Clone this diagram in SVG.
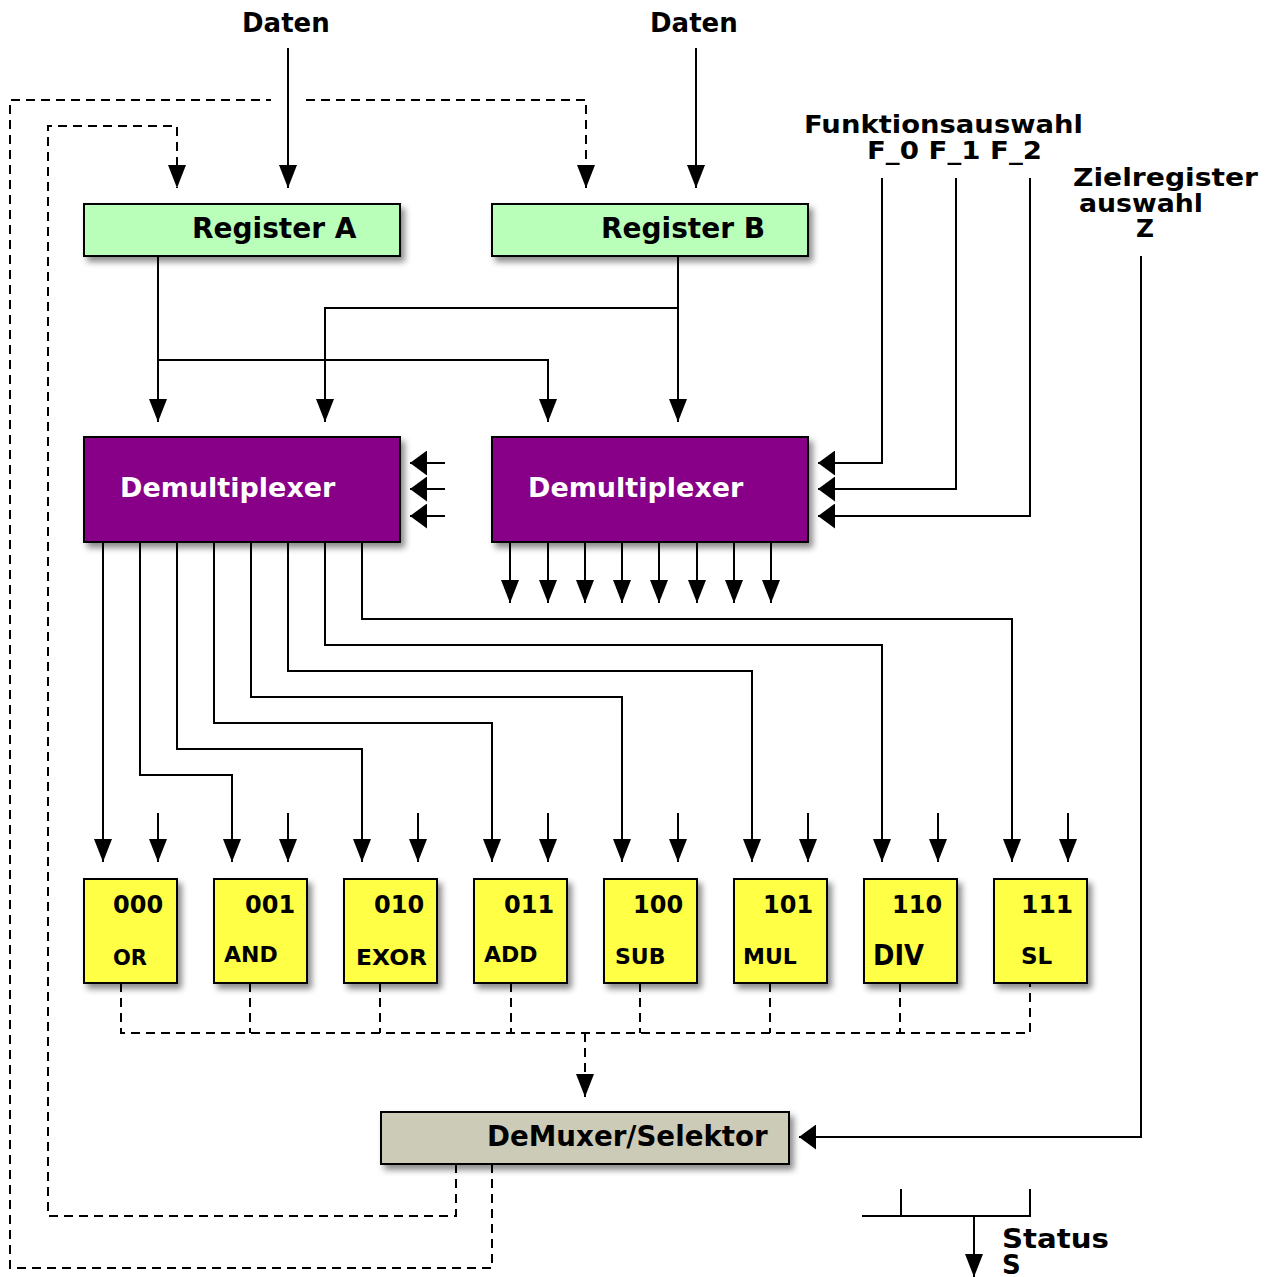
<svg xmlns="http://www.w3.org/2000/svg" width="1271" height="1277" viewBox="0 0 1271 1277">
<defs>
  <filter id="sh" x="-10%" y="-10%" width="130%" height="140%">
    <feDropShadow dx="4" dy="5" stdDeviation="3" flood-color="#000" flood-opacity="0.45"/>
  </filter>
  <marker id="av" markerUnits="userSpaceOnUse" markerWidth="23" markerHeight="18" refX="23" refY="9" orient="auto">
    <path d="M0,0 L23,9 L0,18 z" fill="#000"/>
  </marker>
  <marker id="ah" markerUnits="userSpaceOnUse" markerWidth="17" markerHeight="25" refX="17" refY="12.5" orient="auto">
    <path d="M0,0 L17,12.5 L0,25 z" fill="#000"/>
  </marker>
  <style>
    .t{font-family:"DejaVu Sans","Liberation Sans",sans-serif;font-weight:bold;fill:#000}
    .w{fill:#fff}
    .box{stroke:#000;stroke-width:2;filter:url(#sh)}
    .reg{fill:#b9ffb9}
    .dmx{fill:#880088}
    .alu{fill:#ffff44}
    .sel{fill:#cccbb7}
    .ln{fill:none;stroke:#000;stroke-width:2}
    .dl{fill:none;stroke:#000;stroke-width:2;stroke-dasharray:9,6}
    .v{marker-end:url(#av)}
    .h{marker-end:url(#ah)}
  </style>
</defs>
<rect width="1271" height="1277" fill="#fff"/>

<g id="labels">
  <text class="t" x="242" y="32" font-size="26">Daten</text>
  <text class="t" x="650" y="32" font-size="26">Daten</text>
  <text class="t" x="804" y="133" font-size="25.5" textLength="279" lengthAdjust="spacingAndGlyphs">Funktionsauswahl</text>
  <text class="t" x="867" y="159" font-size="24.5" textLength="175" lengthAdjust="spacingAndGlyphs">F_0 F_1 F_2</text>
  <text class="t" x="1073" y="186" font-size="24.5" textLength="185" lengthAdjust="spacingAndGlyphs">Zielregister</text>
  <text class="t" x="1079" y="212" font-size="24" textLength="124" lengthAdjust="spacingAndGlyphs">auswahl</text>
  <text class="t" x="1136" y="237" font-size="24.5" textLength="18" lengthAdjust="spacingAndGlyphs">Z</text>
  <text class="t" x="1002" y="1248" font-size="26" textLength="107" lengthAdjust="spacingAndGlyphs">Status</text>
  <text class="t" x="1002" y="1274" font-size="26">S</text>
</g>

<g id="connectors">
  <path class="ln v" d="M288,48 V188"/>
  <path class="ln v" d="M696,48 V188"/>
  <path class="dl" d="M492,1164 V1268 H10 V100 H271"/>
  <path class="dl v" d="M306,100 H586 V188"/>
  <path class="dl v" d="M456,1164 V1216 H48 V126 H177 V188"/>
  <path class="ln v" d="M158,256 V422"/>
  <path class="ln v" d="M158,360 H548 V422"/>
  <path class="ln v" d="M678,256 V422"/>
  <path class="ln v" d="M678,308 H325 V422"/>
  <path class="ln h" d="M445,463 H410"/>
  <path class="ln h" d="M445,489 H410"/>
  <path class="ln h" d="M445,516 H410"/>
  <path class="ln h" d="M882,178 V463 H818"/>
  <path class="ln h" d="M956,178 V489 H818"/>
  <path class="ln h" d="M1030,178 V516 H818"/>
  <path class="ln v" d="M510,542 V603"/>
  <path class="ln v" d="M548,542 V603"/>
  <path class="ln v" d="M585,542 V603"/>
  <path class="ln v" d="M622,542 V603"/>
  <path class="ln v" d="M659,542 V603"/>
  <path class="ln v" d="M697,542 V603"/>
  <path class="ln v" d="M734,542 V603"/>
  <path class="ln v" d="M771,542 V603"/>
  <path class="ln v" d="M103,542 V862"/>
  <path class="ln v" d="M140,542 V775 H232 V862"/>
  <path class="ln v" d="M177,542 V749 H362 V862"/>
  <path class="ln v" d="M214,542 V723 H492 V862"/>
  <path class="ln v" d="M251,542 V697 H622 V862"/>
  <path class="ln v" d="M288,542 V671 H752 V862"/>
  <path class="ln v" d="M325,542 V645 H882 V862"/>
  <path class="ln v" d="M362,542 V619 H1012 V862"/>
  <path class="ln v" d="M158,813 V862"/>
  <path class="ln v" d="M288,813 V862"/>
  <path class="ln v" d="M418,813 V862"/>
  <path class="ln v" d="M548,813 V862"/>
  <path class="ln v" d="M678,813 V862"/>
  <path class="ln v" d="M808,813 V862"/>
  <path class="ln v" d="M938,813 V862"/>
  <path class="ln v" d="M1068,813 V862"/>
  <path class="dl" d="M121,983 V1033 H1030 V983"/>
  <path class="dl" d="M250,983 V1033 M380,983 V1033 M511,983 V1033 M640,983 V1033 M770,983 V1033 M900,983 V1033"/>
  <path class="dl v" d="M585,1033 V1097"/>
  <path class="ln h" d="M1141,256 V1137 H799"/>
  <path class="ln" d="M862,1216 H1030 V1189 M901,1189 V1216"/>
  <path class="ln v" d="M974,1216 V1277"/>
</g>

<g id="regA"><rect class="box reg" x="84" y="204" width="316" height="52"/><text class="t" x="192" y="238" font-size="28">Register A</text></g>
<g id="regB"><rect class="box reg" x="492" y="204" width="316" height="52"/><text class="t" x="601" y="238" font-size="28">Register B</text></g>
<g id="demuxA"><rect class="box dmx" x="84" y="437" width="316" height="105"/><text class="t w" x="120" y="497" font-size="27">Demultiplexer</text></g>
<g id="demuxB"><rect class="box dmx" x="492" y="437" width="316" height="105"/><text class="t w" x="528" y="497" font-size="27">Demultiplexer</text></g>

<g id="alu000"><rect class="box alu" x="84" y="879" width="93" height="104"/><text class="t" x="113" y="913" font-size="24">000</text><text class="t" x="113" y="965" font-size="21">OR</text></g>
<g id="alu001"><rect class="box alu" x="214" y="879" width="93" height="104"/><text class="t" x="245" y="913" font-size="24">001</text><text class="t" x="224" y="962" font-size="22">AND</text></g>
<g id="alu010"><rect class="box alu" x="344" y="879" width="93" height="104"/><text class="t" x="374" y="913" font-size="24">010</text><text class="t" x="356" y="965" font-size="22" textLength="71" lengthAdjust="spacingAndGlyphs">EXOR</text></g>
<g id="alu011"><rect class="box alu" x="474" y="879" width="93" height="104"/><text class="t" x="504" y="913" font-size="24">011</text><text class="t" x="484" y="962" font-size="22">ADD</text></g>
<g id="alu100"><rect class="box alu" x="604" y="879" width="93" height="104"/><text class="t" x="633" y="913" font-size="24">100</text><text class="t" x="615" y="964" font-size="22">SUB</text></g>
<g id="alu101"><rect class="box alu" x="734" y="879" width="93" height="104"/><text class="t" x="763" y="913" font-size="24">101</text><text class="t" x="743" y="964" font-size="22">MUL</text></g>
<g id="alu110"><rect class="box alu" x="864" y="879" width="93" height="104"/><text class="t" x="892" y="913" font-size="24">110</text><text class="t" x="873" y="965" font-size="28" textLength="51" lengthAdjust="spacingAndGlyphs">DIV</text></g>
<g id="alu111"><rect class="box alu" x="994" y="879" width="93" height="104"/><text class="t" x="1021" y="913" font-size="25">111</text><text class="t" x="1021" y="964" font-size="23">SL</text></g>

<g id="selektor"><rect class="box sel" x="381" y="1112" width="408" height="52"/><text class="t" x="487" y="1146" font-size="27.7">DeMuxer/Selektor</text></g>
</svg>
